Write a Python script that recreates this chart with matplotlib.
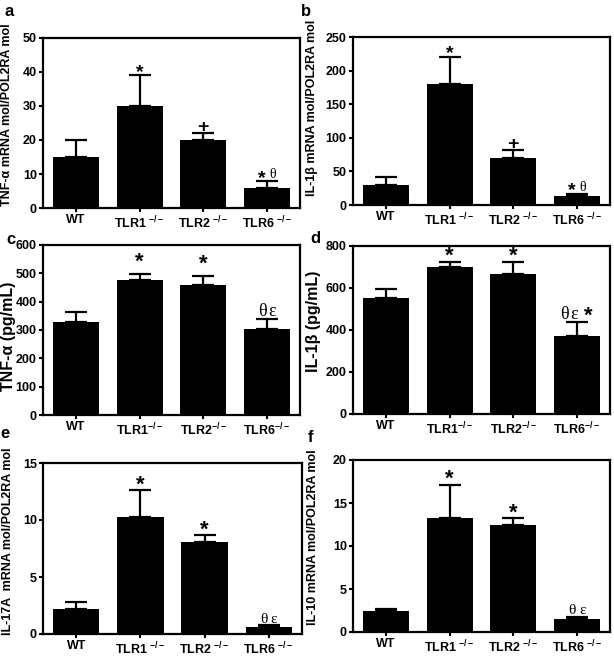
import matplotlib.pyplot as plt

plt.rcParams["font.family"] = ["Liberation Sans", "DejaVu Sans"]
plt.rcParams["font.weight"] = "bold"
plt.rcParams["mathtext.fontset"] = "custom"
plt.rcParams["mathtext.rm"] = "Liberation Sans:bold"
plt.rcParams["mathtext.bf"] = "Liberation Sans:bold"
plt.rcParams["mathtext.it"] = "Liberation Sans:bold"

W, H = 614, 656

labels_spaced = ["WT", r"TLR1 $^{-/-}$", r"TLR2 $^{-/-}$", r"TLR6 $^{-/-}$"]
labels_tight = ["WT", r"TLR1$^{-/-}$", r"TLR2$^{-/-}$", r"TLR6$^{-/-}$"]

# bar means and top of error bars
tnf_mrna = [15, 30, 20, 6]
tnf_mrna_err = [20, 39, 22, 8]
il1b_mrna = [30, 180, 70, 13]
il1b_mrna_err = [42, 220, 82, 16]
tnf_prot = [330, 475, 458, 305]
tnf_prot_err = [365, 497, 490, 340]
il1b_prot = [553, 700, 668, 372]
il1b_prot_err = [597, 725, 726, 440]
il17_mrna = [2.2, 10.3, 8.1, 0.6]
il17_mrna_err = [2.85, 12.6, 8.65, 0.75]
il10_mrna = [2.4, 13.2, 12.5, 1.5]
il10_mrna_err = [2.7, 17.1, 13.2, 1.8]

marks_ab = ["", "*", "+", "*θ"]
marks_cef = ["", "*", "*", "θε"]
marks_d = ["", "*", "*", "θε *"]

# (letter, means, err tops, ylabel, ymax, ystep, xticklabels, marks,
#  axes px box [left, top, right, bottom], letter px pos, ylabel x, ylabel y,
#  ylabel size, star size, greek size, star lift px)
panels = [
    ("a", tnf_mrna, tnf_mrna_err, "TNF-α mRNA mol/POL2RA mol", 50, 10, labels_spaced, marks_ab,
     (43, 38, 300, 208), (9, 11), -0.14, 0.55, 9, 14, 10, 5),
    ("b", il1b_mrna, il1b_mrna_err, "IL-1β mRNA mol/POL2RA mol", 250, 50, labels_spaced, marks_ab,
     (353, 37, 610, 205), (306, 11), -0.16, 0.58, 9, 14, 10, 6),
    ("c", tnf_prot, tnf_prot_err, "TNF-α (pg/mL)", 600, 100, labels_tight, marks_cef,
     (43, 245, 300, 415), (11, 240), -0.135, 0.46, 11.5, 16, 13, 13),
    ("d", il1b_prot, il1b_prot_err, "IL-1β (pg/mL)", 800, 200, labels_tight, marks_d,
     (353, 246, 610, 414), (315, 239), -0.152, 0.55, 11.5, 16, 13, 7),
    ("e", il17_mrna, il17_mrna_err, "IL-17A  mRNA mol/POL2RA mol", 15, 5, labels_spaced, marks_cef,
     (43, 463, 302, 634), (5, 434), -0.136, 0.54, 9, 16, 11, 7),
    ("f", il10_mrna, il10_mrna_err, "IL-10 mRNA mol/POL2RA mol", 20, 5, labels_spaced, marks_cef,
     (353, 460, 610, 632), (310, 437), -0.156, 0.55, 9, 16, 11, 7),
]

char_w = {"*": 8.0, "+": 9.0, "θ": 7.5, "ε": 6.5, " ": 3.0}


def draw_marks(ax, x, y, text, star_size, greek_size, lift):
    total = sum(char_w[c] for c in text)
    pos = -total / 2
    for c in text:
        w = char_w[c]
        cx = pos + w / 2
        pos += w
        if c == " ":
            continue
        if c in "*+":
            dy = -5 + lift * 0.72 if c == "*" else 1
            ax.annotate(c, (x, y), xytext=(cx, dy), textcoords="offset points",
                        ha="center", va="baseline", fontsize=star_size, fontweight="bold",
                        annotation_clip=False)
        else:
            ax.annotate(c, (x, y), xytext=(cx, 2), textcoords="offset points",
                        ha="center", va="baseline", fontsize=greek_size, fontweight="normal",
                        family="Liberation Serif", annotation_clip=False)


fig = plt.figure(figsize=(W / 100, H / 100), dpi=100)

for (letter, means, tops, ylabel, ymax, ystep, xlabels, marks, box, lpos,
     ylx, yly, ylsize, star_size, greek_size, lift) in panels:
    l, t, r, b = box
    ax = fig.add_axes([l / W, 1 - b / H, (r - l) / W, (b - t) / H])
    xs = range(len(means))
    errs = [tp - m for tp, m in zip(tops, means)]
    ax.bar(xs, means, width=0.72, color="black", zorder=2)
    ax.errorbar(xs, means, yerr=[[0] * len(errs), errs], fmt="none", ecolor="black",
                elinewidth=1.6, capsize=8, capthick=1.6, zorder=1)
    ax.set_xlim(-0.52, 3.52)
    ax.set_ylim(0, ymax)
    ax.set_yticks(range(0, ymax + 1, ystep))
    ax.set_xticks(list(xs))
    ax.set_xticklabels(xlabels, fontsize=9, fontweight="bold")
    for lab in ax.get_yticklabels():
        lab.set_fontsize(9)
        lab.set_fontweight("bold")
    ax.tick_params(direction="out", length=3, width=1.5, pad=1.5)
    for sp in ax.spines.values():
        sp.set_linewidth(1.6)
    ax.set_ylabel(ylabel, fontsize=ylsize, fontweight="bold")
    ax.yaxis.label.set_verticalalignment("center")
    ax.yaxis.set_label_coords(ylx, yly)
    for i, m in enumerate(marks):
        if m:
            draw_marks(ax, i, tops[i], m, star_size, greek_size, lift)
    fig.text(lpos[0] / W, 1 - lpos[1] / H, letter, ha="center", va="center",
             fontsize=12, fontweight="bold")

fig.savefig("out.png", dpi=100)
